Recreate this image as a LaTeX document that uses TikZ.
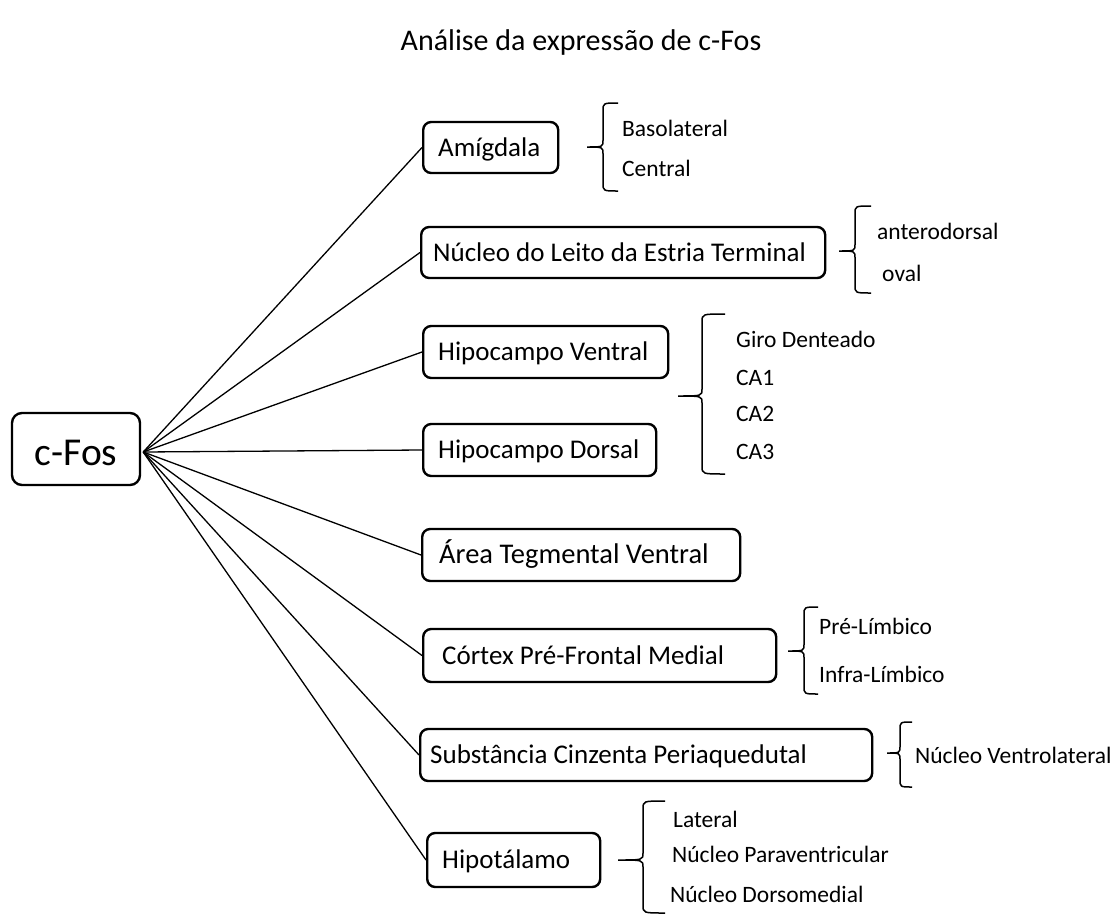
\documentclass[tikz,border=0pt]{standalone}
\usepackage{fontspec}
\setmainfont{Carlito}
% curly brace: tip x, stem x, arm x, top y, middle y, bottom y
\newcommand\brc[6]{%
  \draw[bracepath] (#3,#4) .. controls (#2,#4) .. (#2,#4+8) -- (#2,#5-7)
    .. controls (#2,#5) .. (#1,#5)
    (#1,#5) .. controls (#2,#5) .. (#2,#5+7) -- (#2,#6-8)
    .. controls (#2,#6) .. (#3,#6);}
% left-aligned text of a fixed width inside a region box
\newcommand\inbox[2]{\makebox[#1][l]{#2}}
\begin{document}
\begin{tikzpicture}[x=1pt,y=-1pt,
  regbox/.style={draw, line width=2.4pt, rounded corners=8pt, anchor=west,
    inner ysep=0pt, text height=17.5pt, text depth=0pt,
    font=\fontsize{27}{30}\selectfont},
  sublabel/.style={anchor=base west, inner sep=0pt,
    font=\fontsize{23.5}{26}\selectfont},
  link/.style={line width=1.3pt},
  bracepath/.style={line width=1.5pt}]
\fill[white] (0,0) rectangle (1116,918);
\useasboundingbox (0,0) rectangle (1116,918);

% title
\node[anchor=base, inner sep=0pt, font=\fontsize{30}{34}\selectfont] (title)
  at (581,50) {Análise da expressão de c-Fos};

% root
\node[draw, line width=2.4pt, rounded corners=10pt, minimum width=128pt,
  minimum height=72pt, inner sep=0pt, text height=32pt, text depth=0pt,
  font=\fontsize{39.5}{42}\selectfont] (cfos) at (76,449) {c-Fos};
\coordinate (hub) at ([shift={(2,3)}]cfos.east);

% regions
\node[regbox, minimum height=51pt, inner xsep=15pt]
  (amig) at (422,147.5) {\inbox{105pt}{Amígdala}};
\node[regbox, minimum height=51pt, inner xsep=12pt]
  (nlet) at (420,252.5) {\inbox{380pt}{Núcleo do Leito da Estria Terminal}};
\node[regbox, minimum height=52pt, inner xsep=15pt]
  (hv) at (422,352) {\inbox{215pt}{Hipocampo Ventral}};
\node[regbox, minimum height=52pt, inner xsep=15pt]
  (hd) at (422,450) {\inbox{203pt}{Hipocampo Dorsal}};
\node[regbox, minimum height=52pt, inner xsep=17pt, font=\fontsize{28.5}{30}\selectfont]
  (atv) at (421,555) {\inbox{284pt}{Área Tegmental Ventral}};
\node[regbox, minimum height=53pt, inner xsep=19pt]
  (cpfm) at (422,655.5) {\inbox{315pt}{Córtex Pré-Frontal Medial}};
\node[regbox, minimum height=52pt, inner xsep=10pt]
  (scp) at (419,755) {\inbox{432pt}{Substância Cinzenta Periaquedutal}};
\node[regbox, minimum height=54pt, inner xsep=15pt]
  (hipot) at (426,860) {\inbox{143pt}{Hipotálamo}};

% connectors
\foreach \n in {amig,nlet,hv,hd,atv,cpfm,scp,hipot}
  \draw[link] (hub) -- (\n.west);

% braces
\brc{587}{603}{618}{103}{147}{191}
\brc{839}{855}{871}{206}{251}{293}
\brc{678}{702}{725}{314}{396}{474}
\brc{788}{804}{818}{607}{651}{694}
\brc{887}{900}{912}{722}{753}{787}
\brc{618}{643}{665}{801}{860}{913}

% subdivisions
\node[sublabel] (basolat) at (622,136) {Basolateral};
\node[sublabel] (central) at (622,176) {Central};
\node[sublabel] (antdors) at (877,239) {anterodorsal};
\node[sublabel] (oval) at (882,281) {oval};
\node[sublabel] (giro) at (736,347) {Giro Denteado};
\node[sublabel] (ca1) at (736,385) {CA1};
\node[sublabel] (ca2) at (736,421) {CA2};
\node[sublabel] (ca3) at (736,459) {CA3};
\node[sublabel] (prel) at (819,634) {Pré-Límbico};
\node[sublabel] (infral) at (819,682) {Infra-Límbico};
\node[sublabel] (vlat) at (915,763) {Núcleo Ventrolateral};
\node[sublabel] (lat) at (673,827) {Lateral};
\node[sublabel] (pvn) at (672,862) {Núcleo Paraventricular};
\node[sublabel] (dmn) at (670,902) {Núcleo Dorsomedial};
\end{tikzpicture}
\end{document}
